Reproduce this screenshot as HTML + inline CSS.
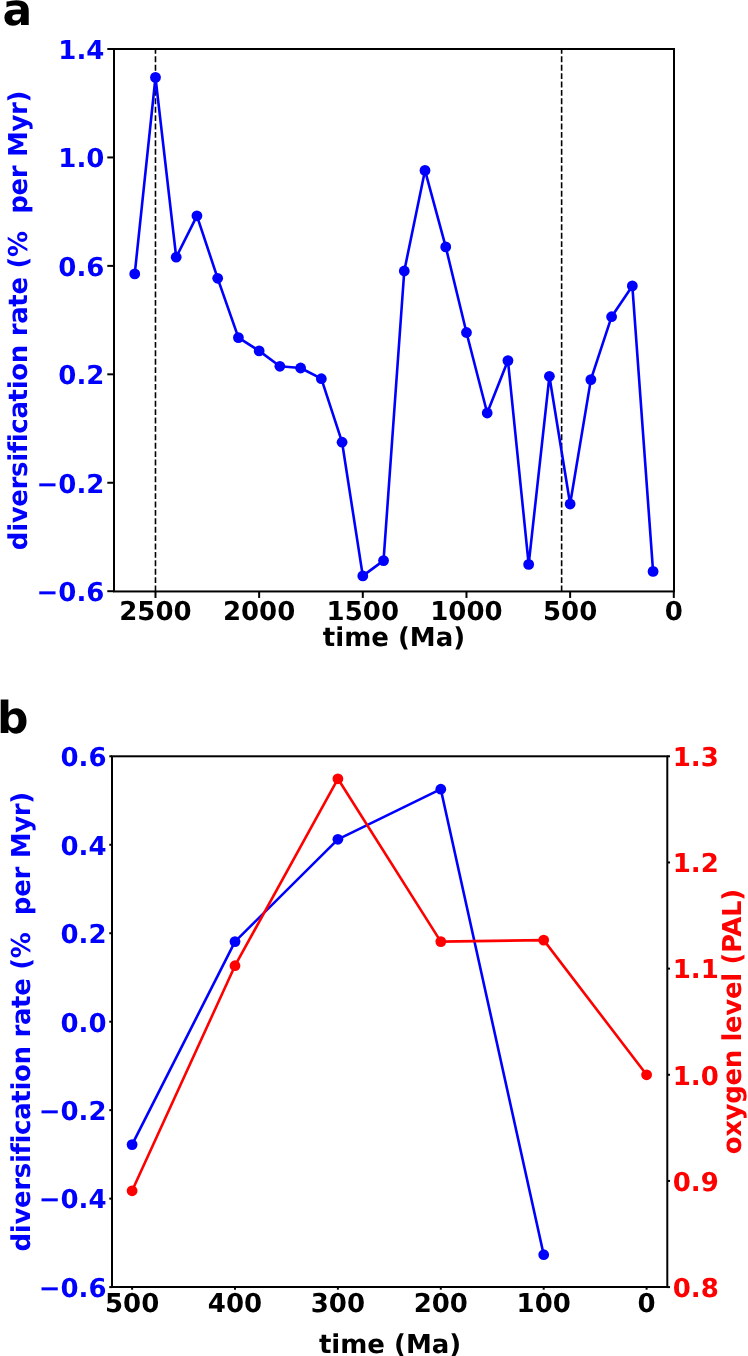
<!DOCTYPE html><html><head><meta charset="utf-8"><style>html,body{margin:0;padding:0;background:#fff}svg{display:block}text{font-family:'DejaVu Sans',sans-serif;font-weight:bold;white-space:pre;text-rendering:geometricPrecision;font-variant-ligatures:none;font-kerning:normal}</style></head><body>
<svg width="748" height="1356" viewBox="0 0 748 1356">
<rect width="748" height="1356" fill="#fff"/>
<line x1="155.48" y1="591.45" x2="155.48" y2="49" stroke="#000" stroke-width="1.6" stroke-dasharray="5.9 2.5"/>
<line x1="561.63" y1="591.45" x2="561.63" y2="49" stroke="#000" stroke-width="1.6" stroke-dasharray="5.9 2.5"/>
<polyline points="134.74,273.90 155.48,77.40 176.21,257.20 196.94,215.80 217.67,278.30 238.41,337.60 259.14,350.90 279.87,366.30 300.61,368.00 321.34,378.70 342.07,442.20 362.80,575.90 383.54,560.60 404.27,271.00 425.00,170.40 445.74,246.90 466.47,332.50 487.20,413.00 507.94,360.60 528.67,564.40 549.40,376.30 570.13,504.00 590.87,379.60 611.60,316.70 632.33,285.90 653.07,571.40" fill="none" stroke="#00f" stroke-width="2.6" stroke-linejoin="round"/>
<circle cx="134.74" cy="273.90" r="5.4" fill="#00f"/>
<circle cx="155.48" cy="77.40" r="5.4" fill="#00f"/>
<circle cx="176.21" cy="257.20" r="5.4" fill="#00f"/>
<circle cx="196.94" cy="215.80" r="5.4" fill="#00f"/>
<circle cx="217.67" cy="278.30" r="5.4" fill="#00f"/>
<circle cx="238.41" cy="337.60" r="5.4" fill="#00f"/>
<circle cx="259.14" cy="350.90" r="5.4" fill="#00f"/>
<circle cx="279.87" cy="366.30" r="5.4" fill="#00f"/>
<circle cx="300.61" cy="368.00" r="5.4" fill="#00f"/>
<circle cx="321.34" cy="378.70" r="5.4" fill="#00f"/>
<circle cx="342.07" cy="442.20" r="5.4" fill="#00f"/>
<circle cx="362.80" cy="575.90" r="5.4" fill="#00f"/>
<circle cx="383.54" cy="560.60" r="5.4" fill="#00f"/>
<circle cx="404.27" cy="271.00" r="5.4" fill="#00f"/>
<circle cx="425.00" cy="170.40" r="5.4" fill="#00f"/>
<circle cx="445.74" cy="246.90" r="5.4" fill="#00f"/>
<circle cx="466.47" cy="332.50" r="5.4" fill="#00f"/>
<circle cx="487.20" cy="413.00" r="5.4" fill="#00f"/>
<circle cx="507.94" cy="360.60" r="5.4" fill="#00f"/>
<circle cx="528.67" cy="564.40" r="5.4" fill="#00f"/>
<circle cx="549.40" cy="376.30" r="5.4" fill="#00f"/>
<circle cx="570.13" cy="504.00" r="5.4" fill="#00f"/>
<circle cx="590.87" cy="379.60" r="5.4" fill="#00f"/>
<circle cx="611.60" cy="316.70" r="5.4" fill="#00f"/>
<circle cx="632.33" cy="285.90" r="5.4" fill="#00f"/>
<circle cx="653.07" cy="571.40" r="5.4" fill="#00f"/>
<rect x="114" y="49" width="560" height="542.45" fill="none" stroke="#000" stroke-width="2"/>
<line x1="107.3" y1="49.00" x2="114" y2="49.00" stroke="#000" stroke-width="2"/>
<text x="104.4" y="58.80" text-anchor="end" fill="#00f" font-size="26">1.4</text>
<line x1="107.3" y1="157.44" x2="114" y2="157.44" stroke="#000" stroke-width="2"/>
<text x="104.4" y="167.24" text-anchor="end" fill="#00f" font-size="26">1.0</text>
<line x1="107.3" y1="265.88" x2="114" y2="265.88" stroke="#000" stroke-width="2"/>
<text x="104.4" y="275.68" text-anchor="end" fill="#00f" font-size="26">0.6</text>
<line x1="107.3" y1="374.32" x2="114" y2="374.32" stroke="#000" stroke-width="2"/>
<text x="104.4" y="384.12" text-anchor="end" fill="#00f" font-size="26">0.2</text>
<line x1="107.3" y1="482.76" x2="114" y2="482.76" stroke="#000" stroke-width="2"/>
<text x="104.4" y="492.56" text-anchor="end" fill="#00f" font-size="26">−0.2</text>
<line x1="107.3" y1="591.20" x2="114" y2="591.20" stroke="#000" stroke-width="2"/>
<text x="104.4" y="601.00" text-anchor="end" fill="#00f" font-size="26">−0.6</text>
<line x1="155.48" y1="591.45" x2="155.48" y2="597.95" stroke="#000" stroke-width="2"/>
<text x="155.48" y="620.3" text-anchor="middle" fill="#000" font-size="26">2500</text>
<line x1="259.14" y1="591.45" x2="259.14" y2="597.95" stroke="#000" stroke-width="2"/>
<text x="259.14" y="620.3" text-anchor="middle" fill="#000" font-size="26">2000</text>
<line x1="362.80" y1="591.45" x2="362.80" y2="597.95" stroke="#000" stroke-width="2"/>
<text x="362.80" y="620.3" text-anchor="middle" fill="#000" font-size="26">1500</text>
<line x1="466.47" y1="591.45" x2="466.47" y2="597.95" stroke="#000" stroke-width="2"/>
<text x="466.47" y="620.3" text-anchor="middle" fill="#000" font-size="26">1000</text>
<line x1="570.13" y1="591.45" x2="570.13" y2="597.95" stroke="#000" stroke-width="2"/>
<text x="570.13" y="620.3" text-anchor="middle" fill="#000" font-size="26">500</text>
<line x1="673.80" y1="591.45" x2="673.80" y2="597.95" stroke="#000" stroke-width="2"/>
<text x="673.80" y="620.3" text-anchor="middle" fill="#000" font-size="26">0</text>
<text x="394.0" y="645.7" text-anchor="middle" fill="#000" font-size="26">time (Ma)</text>
<text transform="translate(27,320.35) rotate(-90)" text-anchor="middle" fill="#00f" font-size="26" textLength="459.6" lengthAdjust="spacing">diversification rate (%  per Myr)</text>
<text x="2.5" y="24.9" fill="#000" font-size="44">a</text>
<polyline points="132.10,1144.60 235.00,941.60 337.90,839.30 440.80,789.20 543.70,1254.70" fill="none" stroke="#00f" stroke-width="2.6" stroke-linejoin="round"/>
<circle cx="132.10" cy="1144.60" r="5.4" fill="#00f"/>
<circle cx="235.00" cy="941.60" r="5.4" fill="#00f"/>
<circle cx="337.90" cy="839.30" r="5.4" fill="#00f"/>
<circle cx="440.80" cy="789.20" r="5.4" fill="#00f"/>
<circle cx="543.70" cy="1254.70" r="5.4" fill="#00f"/>
<polyline points="132.10,1190.80 235.00,965.70 337.90,778.80 440.80,941.60 543.70,940.10 646.60,1074.80" fill="none" stroke="#f00" stroke-width="2.6" stroke-linejoin="round"/>
<circle cx="132.10" cy="1190.80" r="5.4" fill="#f00"/>
<circle cx="235.00" cy="965.70" r="5.4" fill="#f00"/>
<circle cx="337.90" cy="778.80" r="5.4" fill="#f00"/>
<circle cx="440.80" cy="941.60" r="5.4" fill="#f00"/>
<circle cx="543.70" cy="940.10" r="5.4" fill="#f00"/>
<circle cx="646.60" cy="1074.80" r="5.4" fill="#f00"/>
<rect x="112" y="756.3" width="555.30" height="530.70" fill="none" stroke="#000" stroke-width="2"/>
<line x1="109.3" y1="756.30" x2="112" y2="756.30" stroke="#000" stroke-width="2"/>
<text x="106.5" y="766.10" text-anchor="end" fill="#00f" font-size="26">0.6</text>
<line x1="109.3" y1="844.77" x2="112" y2="844.77" stroke="#000" stroke-width="2"/>
<text x="106.5" y="854.57" text-anchor="end" fill="#00f" font-size="26">0.4</text>
<line x1="109.3" y1="933.23" x2="112" y2="933.23" stroke="#000" stroke-width="2"/>
<text x="106.5" y="943.03" text-anchor="end" fill="#00f" font-size="26">0.2</text>
<line x1="109.3" y1="1021.70" x2="112" y2="1021.70" stroke="#000" stroke-width="2"/>
<text x="106.5" y="1031.50" text-anchor="end" fill="#00f" font-size="26">0.0</text>
<line x1="109.3" y1="1110.16" x2="112" y2="1110.16" stroke="#000" stroke-width="2"/>
<text x="106.5" y="1119.96" text-anchor="end" fill="#00f" font-size="26">−0.2</text>
<line x1="109.3" y1="1198.63" x2="112" y2="1198.63" stroke="#000" stroke-width="2"/>
<text x="106.5" y="1208.43" text-anchor="end" fill="#00f" font-size="26">−0.4</text>
<line x1="109.3" y1="1287.10" x2="112" y2="1287.10" stroke="#000" stroke-width="2"/>
<text x="106.5" y="1296.90" text-anchor="end" fill="#00f" font-size="26">−0.6</text>
<line x1="667.3" y1="756.30" x2="670.0" y2="756.30" stroke="#000" stroke-width="2"/>
<text x="672.7" y="766.10" fill="#f00" font-size="26">1.3</text>
<line x1="667.3" y1="862.46" x2="670.0" y2="862.46" stroke="#000" stroke-width="2"/>
<text x="672.7" y="872.26" fill="#f00" font-size="26">1.2</text>
<line x1="667.3" y1="968.62" x2="670.0" y2="968.62" stroke="#000" stroke-width="2"/>
<text x="672.7" y="978.42" fill="#f00" font-size="26">1.1</text>
<line x1="667.3" y1="1074.78" x2="670.0" y2="1074.78" stroke="#000" stroke-width="2"/>
<text x="672.7" y="1084.58" fill="#f00" font-size="26">1.0</text>
<line x1="667.3" y1="1180.94" x2="670.0" y2="1180.94" stroke="#000" stroke-width="2"/>
<text x="672.7" y="1190.74" fill="#f00" font-size="26">0.9</text>
<line x1="667.3" y1="1287.10" x2="670.0" y2="1287.10" stroke="#000" stroke-width="2"/>
<text x="672.7" y="1296.90" fill="#f00" font-size="26">0.8</text>
<line x1="132.10" y1="1287" x2="132.10" y2="1289.7" stroke="#000" stroke-width="2"/>
<text x="132.10" y="1312.3" text-anchor="middle" fill="#000" font-size="26">500</text>
<line x1="235.00" y1="1287" x2="235.00" y2="1289.7" stroke="#000" stroke-width="2"/>
<text x="235.00" y="1312.3" text-anchor="middle" fill="#000" font-size="26">400</text>
<line x1="337.90" y1="1287" x2="337.90" y2="1289.7" stroke="#000" stroke-width="2"/>
<text x="337.90" y="1312.3" text-anchor="middle" fill="#000" font-size="26">300</text>
<line x1="440.80" y1="1287" x2="440.80" y2="1289.7" stroke="#000" stroke-width="2"/>
<text x="440.80" y="1312.3" text-anchor="middle" fill="#000" font-size="26">200</text>
<line x1="543.70" y1="1287" x2="543.70" y2="1289.7" stroke="#000" stroke-width="2"/>
<text x="543.70" y="1312.3" text-anchor="middle" fill="#000" font-size="26">100</text>
<line x1="646.60" y1="1287" x2="646.60" y2="1289.7" stroke="#000" stroke-width="2"/>
<text x="646.60" y="1312.3" text-anchor="middle" fill="#000" font-size="26">0</text>
<text x="390.1" y="1352.6" text-anchor="middle" fill="#000" font-size="26">time (Ma)</text>
<text transform="translate(29.85,1021.65) rotate(-90)" text-anchor="middle" fill="#00f" font-size="26" textLength="459.6" lengthAdjust="spacing">diversification rate (%  per Myr)</text>
<text transform="translate(741,1021.6) rotate(-90)" text-anchor="middle" fill="#f00" font-size="26" textLength="265.4" lengthAdjust="spacing">oxygen level (PAL)</text>
<text x="-3.0" y="733.2" fill="#000" font-size="44">b</text>
</svg></body></html>
